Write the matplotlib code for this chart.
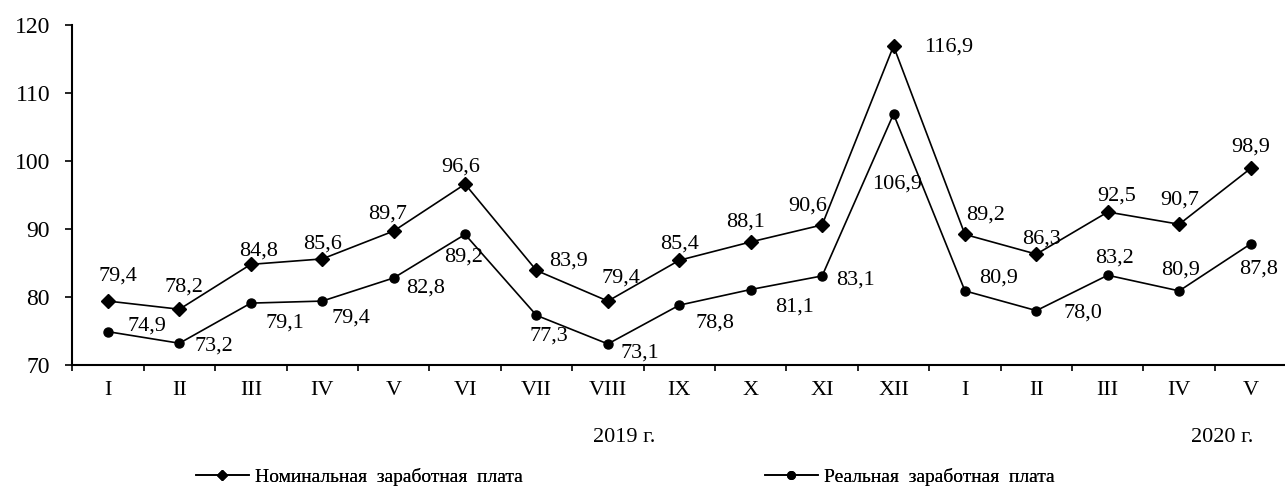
import matplotlib
matplotlib.use("Agg")
import matplotlib.pyplot as plt
from matplotlib.lines import Line2D
from matplotlib.ticker import FixedLocator, NullFormatter, FixedFormatter

months = ["I", "II", "III", "IV", "V", "VI", "VII", "VIII", "IX", "X", "XI", "XII",
          "I", "II", "III", "IV", "V"]
nominal = [79.4, 78.2, 84.8, 85.6, 89.7, 96.6, 83.9, 79.4, 85.4, 88.1, 90.6, 116.9,
           89.2, 86.3, 92.5, 90.7, 98.9]
real = [74.9, 73.2, 79.1, 79.4, 82.8, 89.2, 77.3, 73.1, 78.8, 81.1, 83.1, 106.9,
        80.9, 78.0, 83.2, 80.9, 87.8]
yticks = [70, 80, 90, 100, 110, 120]
year_labels = ["2019 г.", "2020 г."]
legend_labels = ["Номинальная  заработная  плата", "Реальная  заработная  плата"]

# label offsets (pixels) relative to the points
nom_off = [(10, 25), (5, 22), (8, 13), (0, 15), (-6, 17), (-4, 17), (32, 9), (13, 23),
           (0, 16), (-5, 20), (-14, 19), (55, -1), (21, 19), (5, 15), (9, 16), (1, 24), (0, 21)]
real_off = [(39, 6), (34, -3), (34, -20), (29, -17), (32, -10), (-2, -23), (12, -21), (32, -9),
            (36, -18), (44, -18), (33, -4), (4, -70), (34, 13), (47, -2), (7, 17), (1, 21), (8, -25)]

plt.rcParams['font.family'] = ['Liberation Serif', 'DejaVu Serif']

W, H = 1285, 488
fig = plt.figure(figsize=(W / 100, H / 100), dpi=100)
left = 72.3 / W
bottom = (H - 365) / H
top = (H - 25) / H
ax = fig.add_axes([left, bottom, 1214.0 / W, top - bottom])

x = list(range(len(months)))
ax.plot(x, nominal, color='black', lw=1.2, marker='D', ms=7, mfc='black', mec='black',
        clip_on=False)
ax.plot(x, real, color='black', lw=1.2, marker='o', ms=6.5, mfc='black', mec='black',
        clip_on=False)

for xi, v, (dx, dy) in zip(x, nominal, nom_off):
    ax.annotate(f"{v:.1f}".replace('.', ','), (xi, v), xytext=(dx, dy),
                textcoords='offset pixels', ha='center', va='center', fontsize=16)
for xi, v, (dx, dy) in zip(x, real, real_off):
    ax.annotate(f"{v:.1f}".replace('.', ','), (xi, v), xytext=(dx, dy),
                textcoords='offset pixels', ha='center', va='center', fontsize=16)

ax.set_xlim(-0.5, len(months) - 0.5)
ax.set_ylim(70, 120)
ax.set_yticks(yticks)
ax.set_yticklabels([str(t) for t in yticks], fontsize=17)
ax.tick_params(axis='y', direction='out', length=5, width=1.2, pad=11)

ax.xaxis.set_major_locator(FixedLocator([i - 0.5 for i in range(len(months) + 1)]))
ax.xaxis.set_major_formatter(NullFormatter())
ax.xaxis.set_minor_locator(FixedLocator(x))
ax.xaxis.set_minor_formatter(FixedFormatter(months))
ax.tick_params(axis='x', which='major', direction='out', length=4.5, width=1.2)
ax.tick_params(axis='x', which='minor', length=0, pad=11.5, labelsize=16)

for s in ['top', 'right']:
    ax.spines[s].set_visible(False)
for s in ['left', 'bottom']:
    ax.spines[s].set_linewidth(1.5)
    ax.spines[s].set_color('black')

fig.text(624 / W, 1 - 437 / H, year_labels[0], ha='center', va='center', fontsize=16)
fig.text(1222 / W, 1 - 437 / H, year_labels[1], ha='center', va='center', fontsize=16)

h1 = Line2D([], [], color='black', lw=1.2, marker='D', ms=5.5, mfc='black')
h2 = Line2D([], [], color='black', lw=1.2, marker='o', ms=5.5, mfc='black')
for h, lab, xs in [(h1, legend_labels[0], 196), (h2, legend_labels[1], 765)]:
    lg = fig.legend([h], [lab], loc='center left', bbox_to_anchor=(xs / W, 1 - 477 / H),
                    frameon=False, borderpad=0, borderaxespad=0, handlelength=2.7,
                    handletextpad=0.35, fontsize=14, numpoints=1)
    fig.add_artist(lg)

fig.savefig('out.png', dpi=100)
